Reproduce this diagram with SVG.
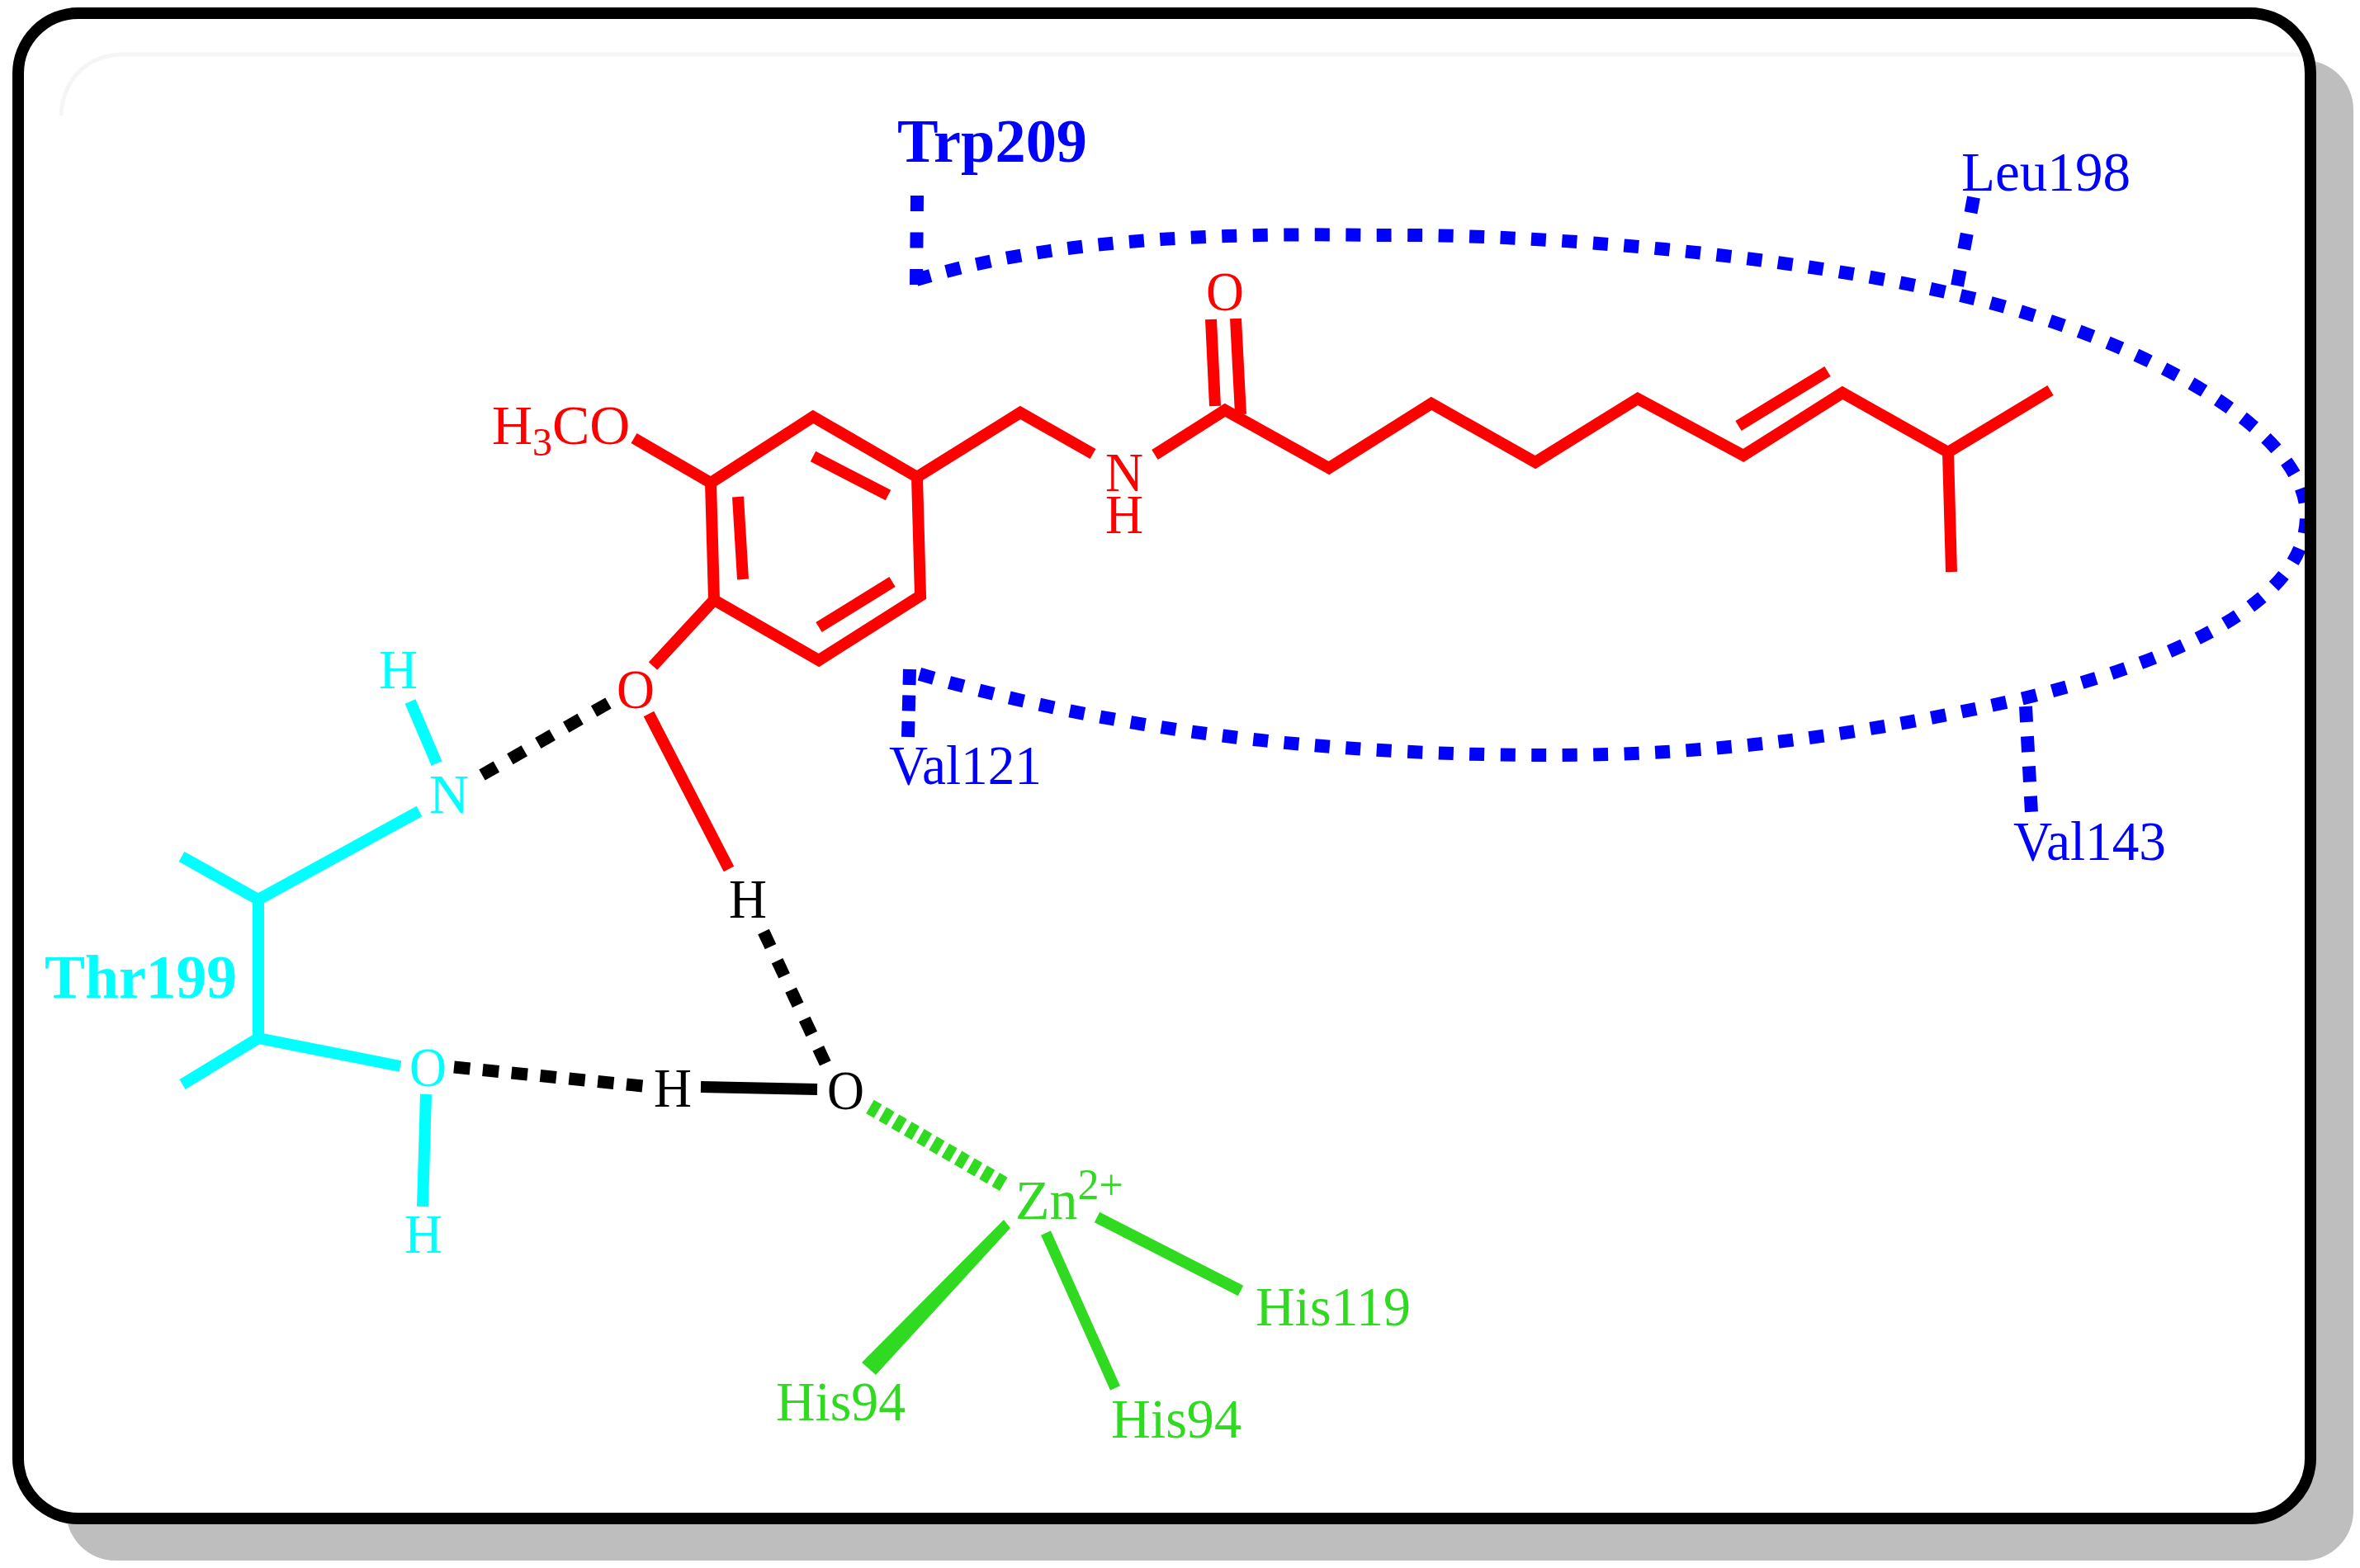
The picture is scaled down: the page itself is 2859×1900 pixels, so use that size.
<svg xmlns="http://www.w3.org/2000/svg" width="2859" height="1900" viewBox="0 0 2859 1900">
<style>
text{font-family:"Liberation Serif","Times New Roman",serif;font-size:68px}
.r{fill:#f00}.c{fill:#0ff}.g{fill:#2fda20}.b{fill:#00f}.k{fill:#000}
.tb{font-weight:bold;font-size:75px}
.sm{font-size:48px}
.l{fill:none;stroke-linecap:butt;stroke-linejoin:miter}
.lr{stroke:#f00;stroke-width:14}
.lc{stroke:#0ff;stroke-width:14}
.lg{stroke:#2fda20;stroke-width:13}
.lk{stroke:#000;stroke-width:15}
.lb{stroke:#00f;stroke-width:16}
</style>
<g id="frame">
<rect x="80" y="73" width="2771" height="1818" rx="60" fill="#bebebe"/>
<rect x="22" y="16" width="2777" height="1824" rx="73" fill="#fff"/>
<path d="M2790,66H143C100,70 76,100 74,140" fill="none" stroke="#f5f5f5" stroke-width="5"/>
</g>
<g id="connectors">
<g id="pocket" class="l lb">
<path stroke-dasharray="18 19.5" d="M1110,339C1280,288 1480,282 1667,285C1880,283 2170,310 2375,358C2560,400 2794,510 2794,625C2794,740 2600,810 2452,846C2260,890 2080,915 1881,915C1640,915 1370,893 1101,813"/>
<path stroke-dasharray="19 25.5" d="M1111,237L1110,345"/>
<path stroke-dasharray="19 26" d="M2391,239L2370,352"/>
<path stroke-dasharray="19 12.5" d="M1102,811L1100,893"/>
<path stroke-dasharray="19 17.3" d="M2454,856L2461,985"/>
</g>
<g id="ligand" class="l lr">
<path d="M985,505L861,585L865,727L992,800L1115,722L1111,578Z"/>
<path d="M894,602L900,702M985,553L1076,600M992,760L1081,705"/>
<path d="M768,531L861,585M865,727L791,807M786,865L883,1053"/>
<path d="M1111,578L1236,500L1324,550M1399,551L1484,497L1610,567L1734,489L1860,560L1984,483L2112,552L2232,476L2360,548L2484,473M2360,548L2364,693"/>
<path d="M2106,516L2214,450M1467,387L1472,492M1497,386L1503,502"/>
</g>
<g id="thr" class="l lc">
<path d="M497,850L529,925M508,983L313,1090L220,1038M313,1090V1258L221,1314M313,1258L485,1292M516,1326L512,1462"/>
</g>
<g id="hbonds" class="l lk">
<path stroke-dasharray="20 19" d="M584,939L737,852"/>
<path stroke-dasharray="20 19" d="M925,1129L1002,1293"/>
<path stroke-dasharray="19.5 15.5" d="M550,1293L779,1316"/>
<path stroke-width="14" d="M849,1317L990,1320"/>
</g>
<g id="zinc" class="l lg">
<path stroke-width="19" stroke-dasharray="11 6.6" d="M1054,1341L1216,1435"/>
<path d="M1267,1494L1351,1682"/>
<path stroke-width="14" d="M1329,1475L1503,1564"/>
<polygon points="1216,1478 1224,1488 1061,1666 1044,1651" fill="#2fda20" stroke="none"/>
</g>
</g>
<rect id="border" x="22" y="16" width="2777" height="1824" rx="73" fill="none" stroke="#000" stroke-width="14"/>
<g id="label-h3co"><text class="r" y="538"><tspan x="596">H</tspan><tspan class="sm" x="645" dy="14">3</tspan><tspan x="669" dy="-14">CO</tspan></text></g>
<g id="atom-o-methoxy"><text class="r" x="747" y="858" textLength="46" lengthAdjust="spacingAndGlyphs">O</text></g>
<g id="atom-h-hydroxyl"><text class="k" x="883" y="1112" textLength="46" lengthAdjust="spacingAndGlyphs">H</text></g>
<g id="atom-nh"><text class="r" x="1339" y="595" textLength="46" lengthAdjust="spacingAndGlyphs">N</text><text class="r" x="1339" y="646" textLength="46" lengthAdjust="spacingAndGlyphs">H</text></g>
<g id="atom-carbonyl"><text class="r" x="1461" y="376" textLength="46" lengthAdjust="spacingAndGlyphs">O</text></g>
<g id="atom-thr-n"><text class="c" x="520" y="985" textLength="48" lengthAdjust="spacingAndGlyphs">N</text><text class="c" x="459" y="834" textLength="47" lengthAdjust="spacingAndGlyphs">H</text></g>
<g id="atom-thr-o"><text class="c" x="496" y="1316" textLength="45" lengthAdjust="spacingAndGlyphs">O</text><text class="c" x="490" y="1518" textLength="46" lengthAdjust="spacingAndGlyphs">H</text></g>
<g id="label-thr199"><text class="c tb" x="54" y="1209" textLength="233" lengthAdjust="spacingAndGlyphs">Thr199</text></g>
<g id="atom-water"><text class="k" x="792" y="1341" textLength="46" lengthAdjust="spacingAndGlyphs">H</text><text class="k" x="1002" y="1344" textLength="45" lengthAdjust="spacingAndGlyphs">O</text></g>
<g id="atom-zn"><text class="g" x="1230" y="1477">Zn<tspan style="font-size:52px" dy="-24">2+</tspan></text></g>
<g id="label-his94a"><text class="g" x="940" y="1721" textLength="157" lengthAdjust="spacingAndGlyphs">His94</text></g>
<g id="label-his94b"><text class="g" x="1346" y="1742" textLength="158" lengthAdjust="spacingAndGlyphs">His94</text></g>
<g id="label-his119"><text class="g" x="1521" y="1606" textLength="188" lengthAdjust="spacingAndGlyphs">His119</text></g>
<g id="label-trp209"><text class="b tb" x="1087" y="196" textLength="230" lengthAdjust="spacingAndGlyphs">Trp209</text></g>
<g id="label-leu198"><text class="b" x="2376" y="231" textLength="205" lengthAdjust="spacingAndGlyphs">Leu198</text></g>
<g id="label-val121"><text class="b" x="1077" y="950" textLength="185" lengthAdjust="spacingAndGlyphs">Val121</text></g>
<g id="label-val143"><text class="b" x="2439" y="1042" textLength="185" lengthAdjust="spacingAndGlyphs">Val143</text></g>
</svg>
